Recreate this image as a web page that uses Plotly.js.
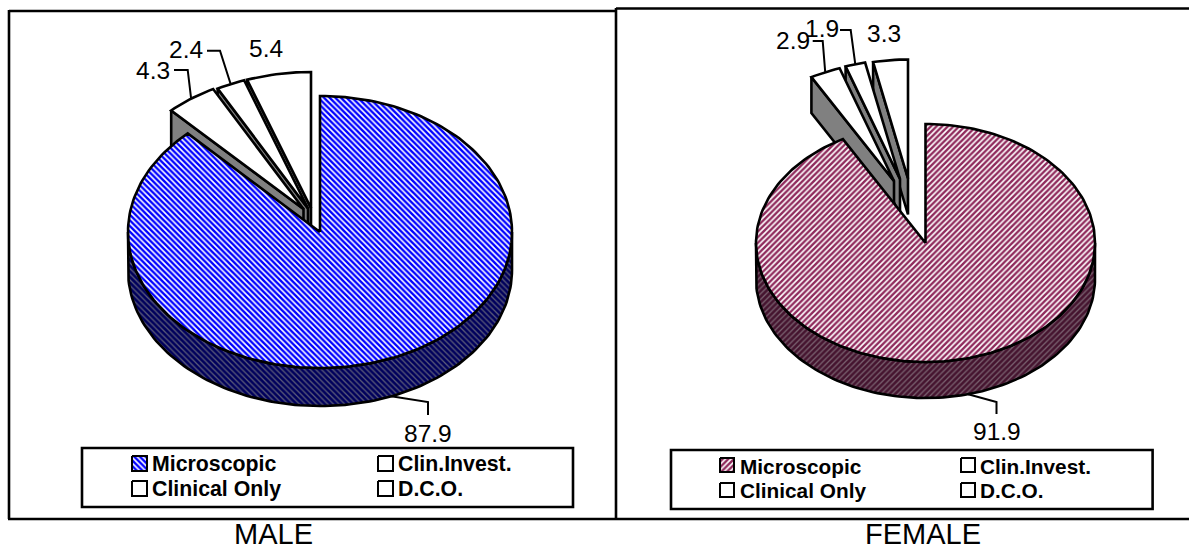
<!DOCTYPE html>
<html><head><meta charset="utf-8">
<script src="https://cdn.plot.ly/plotly-3.0.1.min.js"></script>
<style>html,body{margin:0;padding:0;background:#fff}#c{width:1189px;height:550px}</style>
</head><body><div id="c"></div>
<script>
// ---- data ----
const categories = ['Microscopic', 'Clin.Invest.', 'Clinical Only', 'D.C.O.'];
const maleValues = [87.9, 4.3, 2.4, 5.4];
const femaleValues = [91.9, 2.9, 1.9, 3.3];
const panelTitles = ['MALE', 'FEMALE'];

// ---- geometry and style (pixels on the 1189x550 canvas) ----
const W = 1189, H = 550, SPLIT = 616;
const FONT = 'Arial, "Liberation Sans", sans-serif';
const panels = [{
  values: maleValues, xa: 'x', ya: 'y', px0: 0, px1: SPLIT,
  cx: 320, cy: 232, rx: 192, ry: 136, depth: 38,
  apex: [null, [303.5, 209], [308, 208.5], [311, 208]],
  shape: '\\', fg: '#0000ff', wallFg: '#00005c', wallBg: '#5c5c78',
  leaders: [
    {elbow: [[428, 402], [428, 415]], text: [428, 433.5]},
    {elbow: [[187.7, 70], [174, 70]], text: [153, 70]},
    {elbow: [[220, 50.7], [207, 50.7]], text: [186, 49.5]},
    {elbow: null, text: [265.7, 48.5]}],
  box: [82, 448, 573, 507],
  swX: [132, 378], swY: [456, 481], swS: 15, txX: [152, 398], txY: [464, 489], legSize: 21.3,
  title: [273.7, 533.5]
}, {
  values: femaleValues, xa: 'x2', ya: 'y2', px0: SPLIT, px1: W,
  cx: 925.5, cy: 243, rx: 169.5, ry: 119, depth: 36,
  apex: [null, [894, 181], [900, 179], [908, 178.5]],
  shape: '/', fg: '#8f2a5c', wallFg: '#45142f', wallBg: '#7a6270',
  leaders: [
    {elbow: [[996.5, 402], [996.5, 414]], text: [996.7, 431.5]},
    {elbow: [[822.7, 41], [812.7, 41]], text: [793, 40]},
    {elbow: [[850.7, 30], [840, 30]], text: [821.7, 28.5]},
    {elbow: null, text: [883.5, 33.5]}],
  box: [671, 450, 1152.6, 509],
  swX: [720, 961], swY: [458, 483], swS: 14, txX: [740, 980], txY: [466, 490], legSize: 20.8,
  title: [923, 533.5]
}];

const traces = [], annotations = [], shapes = [];
const rad = a => a * Math.PI / 180;
const LW = 2.6;
const PAT = 4;
const SOLID = 0.6;
const WALL_SOLID = 0.68;

panels.forEach((p, pi) => {
  // pie units: one unit of x = rx px, one unit of y = ry px, y pointing up
  const ux = px => (px - p.cx) / p.rx;
  const uy = py => (p.cy - py) / p.ry;
  const poly = (pts, fill, extra) => Object.assign({
    type: 'scatter', mode: 'lines', xaxis: p.xa, yaxis: p.ya, hoverinfo: 'skip', showlegend: false,
    x: pts.map(q => q[0]), y: pts.map(q => q[1]),
    line: {color: '#000', width: LW}, fill: fill ? 'toself' : 'none', fillcolor: fill || undefined
  }, extra || {});
  const d = p.depth / p.ry;

  // slice angles, clockwise from twelve o'clock, from the values
  const total = p.values.reduce((a, b) => a + b, 0);
  let acc = 0;
  const spans = p.values.map(v => { const s = acc; acc += v / total * 360; return [s, acc]; });
  const onArc = (a, c) => [c[0] + Math.sin(rad(a)), c[1] + Math.cos(rad(a))];
  const arc = (a0, a1, c) => {
    const n = Math.max(4, Math.ceil(Math.abs(a1 - a0) / 1.5)), out = [];
    for (let i = 0; i <= n; i++) out.push(onArc(a0 + (a1 - a0) * i / n, c));
    return out;
  };

  // exploded slices, back to front
  for (let i = p.values.length - 1; i >= 1; i--) {
    const c = [ux(p.apex[i][0]), uy(p.apex[i][1])];
    const [a0, a1] = spans[i];
    const oL = onArc(a0, c);
    traces.push(poly([oL, c, [c[0], c[1] - d], [oL[0], oL[1] - d], oL], '#808080'));
    traces.push(poly([c].concat(arc(a0, a1, c)).concat([c]), '#ffffff'));
  }

  // main slice: wall, then top
  const c0 = [0, 0], [m0, m1] = spans[0];
  const wallTop = arc(90, 270, c0);
  const wall = wallTop.concat(wallTop.slice().reverse().map(q => [q[0], q[1] - d]));
  wall.push(wallTop[0]);
  traces.push(poly(wall, p.wallBg, {fillpattern: {shape: p.shape, fgcolor: p.wallFg, bgcolor: p.wallBg, size: PAT, solidity: WALL_SOLID}}));
  const top = [c0].concat(arc(m0, m1, c0)).concat([c0]);
  traces.push(poly(top, '#ffffff', {name: categories[0], fillpattern: {shape: p.shape, fgcolor: p.fg, bgcolor: '#ffffff', size: PAT, solidity: SOLID}}));

  // leaders and value labels
  p.leaders.forEach((l, i) => {
    const [a0, a1] = spans[i];
    if (l.elbow) {
      const c = i === 0 ? c0 : [ux(p.apex[i][0]), uy(p.apex[i][1])];
      const s = onArc((a0 + a1) / 2, c);
      if (i === 0) s[1] -= d;
      const pts = [s].concat(l.elbow.map(e => [ux(e[0]), uy(e[1])]));
      traces.push(poly(pts, null, {line: {color: '#000', width: 2}}));
    }
    annotations.push({
      xref: p.xa, yref: p.ya, x: ux(l.text[0]), y: uy(l.text[1]), text: p.values[i].toFixed(1),
      showarrow: false, xanchor: 'center', yanchor: 'middle',
      font: {family: FONT, size: 24.5, color: '#000'}
    });
  });

  // legend box
  const b = p.box;
  shapes.push({type: 'rect', xref: 'paper', yref: 'paper', x0: b[0] / W, x1: b[2] / W,
    y0: 1 - b[1] / H, y1: 1 - b[3] / H, line: {color: '#000', width: 2.6}, fillcolor: 'rgba(0,0,0,0)', layer: 'below'});
  const cells = [[0, 0], [1, 0], [0, 1], [1, 1]];
  categories.forEach((name, i) => {
    const [col, row] = cells[i];
    const x0 = p.swX[col], y0 = p.swY[row], s = p.swS;
    const sq = [[x0, y0], [x0 + s, y0], [x0 + s, y0 + s], [x0, y0 + s], [x0, y0]].map(q => [ux(q[0]), uy(q[1])]);
    const pat = i === 0 ? {fillpattern: {shape: p.shape, fgcolor: p.fg, bgcolor: '#fff', size: PAT, solidity: SOLID}} : {};
    traces.push(poly(sq, '#ffffff', Object.assign({name, line: {color: '#000', width: 2}}, pat)));
    annotations.push({
      xref: p.xa, yref: p.ya, x: ux(p.txX[col]), y: uy(p.txY[row]), text: '<b>' + name + '</b>',
      showarrow: false, xanchor: 'left', yanchor: 'middle', xshift: -2,
      font: {family: FONT, size: p.legSize, color: '#000'}
    });
  });

  // panel title
  annotations.push({
    xref: p.xa, yref: p.ya, x: ux(p.title[0]), y: uy(p.title[1]), text: panelTitles[pi],
    showarrow: false, xanchor: 'center', yanchor: 'middle',
    font: {family: FONT, size: 29, color: '#000'}
  });
});

// panel frames
const frame = (x0, y0, x1, y1) => shapes.push({type: 'line', xref: 'paper', yref: 'paper',
  x0: x0 / W, x1: x1 / W, y0: 1 - y0 / H, y1: 1 - y1 / H, line: {color: '#000', width: 2.6}});
frame(9, 11, 616, 11); frame(9, 10, 9, 519); frame(616, 8.5, W, 8.5);
frame(616, 8, 616, 519); frame(8, 519, W, 519);

const axisFor = (p) => ({
  x: {domain: [p.px0 / W, p.px1 / W], range: [(p.px0 - p.cx) / p.rx, (p.px1 - p.cx) / p.rx], visible: false, fixedrange: true},
  y: {domain: [0, 1], range: [(p.cy - H) / p.ry, p.cy / p.ry], visible: false, fixedrange: true}
});
const a0 = axisFor(panels[0]), a1 = axisFor(panels[1]);
const layout = {
  width: W, height: H, margin: {l: 0, r: 0, t: 0, b: 0}, paper_bgcolor: '#fff', plot_bgcolor: 'rgba(0,0,0,0)',
  showlegend: false,
  xaxis: Object.assign({anchor: 'y'}, a0.x), yaxis: Object.assign({anchor: 'x'}, a0.y),
  xaxis2: Object.assign({anchor: 'y2'}, a1.x), yaxis2: Object.assign({anchor: 'x2'}, a1.y),
  annotations, shapes
};
Plotly.newPlot('c', traces, layout, {displayModeBar: false, staticPlot: true});
</script></body></html>
